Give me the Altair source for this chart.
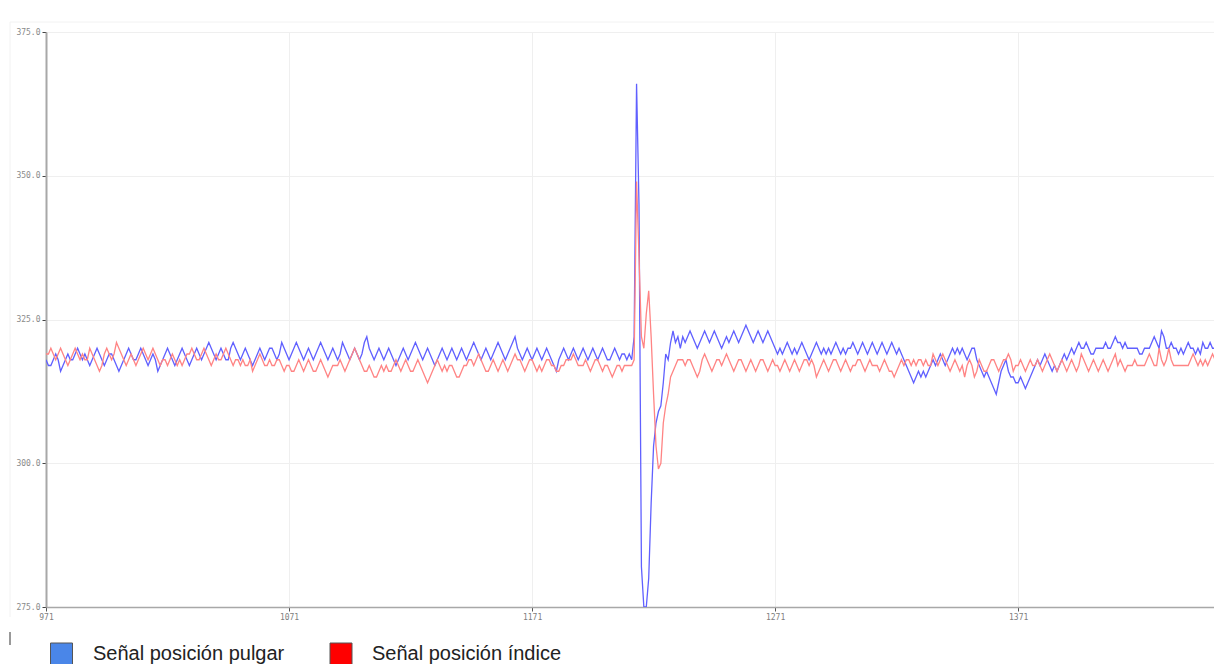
import altair as alt
import pandas as pd

# ---------------- data ----------------
x_start = 971

# Señal posición pulgar (blue)
pulgar = [
    318,317,317,318,319,318,316,317,318,319,318,318,319,320,319,318,319,318,317,318,
    319,320,319,318,317,318,319,319,318,317,316,317,318,319,320,319,318,318,319,320,
    319,318,317,318,319,318,316,317,318,319,320,319,318,317,318,319,320,319,318,317,
    318,319,320,319,318,319,320,321,320,319,318,319,320,319,318,318,320,321,320,319,
    318,319,320,319,318,317,318,319,320,319,318,319,320,320,319,318,319,321,320,319,
    318,319,320,321,320,319,318,319,320,319,318,319,320,321,320,319,318,319,320,319,
    318,319,321,320,319,318,319,320,319,318,319,321,322,320,319,318,319,320,319,318,
    319,320,319,318,317,318,319,320,319,318,319,320,321,320,319,318,319,320,319,318,
    317,318,319,320,319,318,319,320,319,318,319,320,319,318,319,320,321,320,319,318,
    319,320,319,318,319,320,321,320,319,318,319,320,321,322,320,319,318,319,320,319,
    318,319,320,319,318,319,320,319,318,317,316,318,319,320,319,318,319,320,319,318,
    319,320,319,318,319,320,319,318,319,320,319,318,318,319,320,319,318,319,319,318,
    319,318,322,366,345,282,275,275,280,293,303,307,309,310,314,319,318,321,323,321,322,320,
    322,321,322,323,322,321,320,321,322,323,322,321,322,323,322,321,320,321,322,321,
    322,323,322,321,322,323,324,323,322,321,322,323,322,321,322,323,322,321,320,319,
    320,319,320,321,320,319,320,319,320,321,320,319,318,319,320,321,320,319,320,319,
    320,319,320,321,320,319,320,319,320,320,321,320,319,320,321,320,319,320,321,320,
    319,320,321,320,319,320,321,320,319,320,319,318,317,316,315,314,315,316,315,316,
    315,316,317,318,317,318,319,318,317,318,319,320,319,320,319,320,319,318,319,320,
    320,318,317,316,315,316,315,314,313,312,314,316,317,318,316,315,315,314,314,315,
    314,313,314,315,316,317,318,317,318,319,318,317,316,317,316,317,318,319,318,319,
    320,319,320,321,320,320,321,320,319,319,320,320,320,320,321,320,320,321,322,321,
    321,320,321,320,320,320,320,320,319,319,320,320,320,321,322,321,320,323,322,320,
    320,321,320,320,319,320,319,320,321,320,320,319,320,319,321,320,320,321,320,320,
]

# Señal posición índice (red)
indice = [
    319,319,320,319,318,319,320,319,318,317,318,319,320,319,318,319,318,318,320,319,
    318,317,316,317,319,320,319,318,319,321,320,319,318,317,318,319,318,317,318,319,
    320,319,318,319,320,319,318,317,318,318,317,318,319,318,317,318,317,318,319,319,
    320,319,318,318,319,320,319,318,317,318,319,318,318,319,320,319,318,317,318,318,
    317,318,317,317,318,316,317,318,319,318,317,317,318,317,317,318,318,317,316,317,
    317,316,316,317,318,317,316,317,318,317,316,316,317,318,317,316,315,316,317,317,
    317,318,317,316,317,318,319,320,319,318,317,316,316,317,316,315,315,316,317,316,
    317,316,316,317,318,317,316,317,318,317,316,316,317,318,317,316,315,314,315,316,
    317,318,317,316,317,316,317,317,316,315,315,316,317,317,318,318,317,318,319,318,
    317,316,316,317,318,317,316,317,318,317,316,317,318,319,318,318,317,316,317,318,
    318,317,316,317,316,317,318,318,317,317,316,316,317,317,318,318,318,319,318,317,
    317,317,318,317,316,317,318,318,317,316,317,317,316,315,316,317,317,316,317,317,
    317,317,318,349,336,322,320,326,330,322,312,303,299,300,307,310,312,315,316,317,318,318,
    318,317,318,318,317,316,315,316,318,319,318,317,316,317,318,318,317,318,319,318,
    317,316,317,318,318,317,316,317,318,317,316,317,318,318,317,316,317,318,317,317,
    316,317,318,317,316,317,318,317,316,317,318,318,317,318,317,315,316,317,318,317,
    316,317,318,318,317,316,317,318,317,316,317,317,318,318,317,316,317,318,317,317,
    317,316,317,318,317,316,316,315,316,317,318,317,318,318,317,318,317,318,318,317,
    318,317,317,319,318,317,318,319,318,317,316,317,318,317,316,317,315,317,318,317,
    315,316,318,317,316,316,317,318,318,317,316,317,318,318,319,318,316,317,317,318,
    317,316,317,318,317,317,318,317,316,317,318,319,318,317,316,317,318,317,316,317,
    318,317,316,317,319,318,317,316,317,318,317,316,317,318,317,316,317,318,319,317,
    318,317,316,317,317,317,318,317,317,317,317,318,319,318,317,317,320,318,317,318,
    320,318,317,317,317,317,317,317,317,318,319,318,317,318,317,318,317,318,319,318,
]

series_names = ["Señal posición pulgar", "Señal posición índice"]
line_colors = ["#6060ff", "#ff8484"]
legend_colors = ["#4a86e8", "#ff0000"]
y_ticks = [275, 300, 325, 350, 375]
x_ticks = [971, 1071, 1171, 1271, 1371]
x_domain = [971, 1451.6]
y_domain = [275, 375]

W, H = 1168, 575

x_scale = alt.Scale(domain=x_domain, nice=False, zero=False)
y_scale = alt.Scale(domain=y_domain, nice=False, zero=False)

x_axis = alt.Axis(values=x_ticks, format="d", title=None, grid=True, gridColor="#efefef",
                  domainColor="#a8a8a8", domainWidth=1.5, tickColor="#555", tickSize=4,
                  labelFont="DejaVu Sans Mono", labelFontSize=8, labelColor="#808080",
                  labelPadding=2, labelFlush=False, labelBound=False)
y_axis = alt.Axis(values=y_ticks, format=".1f", title=None, grid=True, gridColor="#efefef",
                  domainColor="#a8a8a8", domainWidth=2, tickColor="#444", tickSize=4,
                  labelFont="DejaVu Sans Mono", labelFontSize=8, labelColor="#8a8a8a",
                  labelPadding=2, labelFlush=False, labelBound=False)


def series_df(name, vals):
    return pd.DataFrame({"muestra": [x_start + i for i in range(len(vals))],
                         "valor": vals,
                         "serie": [name] * len(vals)})


layers = []
for k, (name, vals) in enumerate(zip(series_names, [pulgar, indice])):
    layers.append(
        alt.Chart(series_df(name, vals)).mark_line(strokeWidth=1.3, clip=True).encode(
            x=alt.X("muestra:Q", scale=x_scale, axis=x_axis),
            y=alt.Y("valor:Q", scale=y_scale, axis=y_axis),
            color=alt.Color("serie:N", scale=alt.Scale(domain=series_names, range=line_colors),
                            legend=None),
        )
    )

# manual legend below the plot
legend_sq_x = [15.5, 295]
legend_tx_x = [47, 326]
for name, col, sx, tx in zip(series_names, legend_colors, legend_sq_x, legend_tx_x):
    ld = pd.DataFrame({"label": [name]})
    layers.append(
        alt.Chart(ld).mark_square(size=484, filled=True, color=col, stroke="#555",
                                  strokeWidth=1, opacity=1).encode(
            x=alt.value(sx), y=alt.value(622))
    )
    layers.append(
        alt.Chart(ld).mark_text(align="left", baseline="alphabetic", fontSize=20,
                                font="Liberation Sans", color="#222").encode(
            x=alt.value(tx), y=alt.value(628), text="label:N")
    )

# small decorations of the original plotter window
deco = pd.DataFrame({"k": [0]})
layers.append(
    alt.Chart(deco).mark_rule(color="#f2f2f2", strokeWidth=1).encode(
        x=alt.value(-36), y=alt.value(-10), y2=alt.value(585))
)
layers.append(
    alt.Chart(deco).mark_rule(color="#f2f2f2", strokeWidth=1).encode(
        x=alt.value(-36), x2=alt.value(W), y=alt.value(-10))
)
layers.append(
    alt.Chart(deco).mark_rule(color="#999", strokeWidth=2).encode(
        x=alt.value(-36), y=alt.value(600), y2=alt.value(613))
)

chart = alt.layer(*layers).properties(
    width=W, height=H,
    autosize=alt.AutoSizeParams(type="none"),
    padding={"left": 46, "top": 32, "right": 0, "bottom": 57},
    background="white",
).configure_view(stroke=None)

chart.save("out.html", embed_options={"renderer": "svg", "actions": False})
